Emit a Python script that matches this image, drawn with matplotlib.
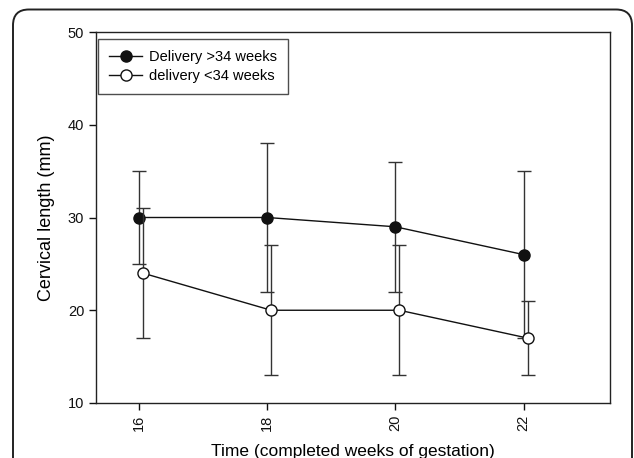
import matplotlib
matplotlib.use("Agg")
import matplotlib.pyplot as plt
from matplotlib.patches import FancyBboxPatch
from matplotlib.transforms import ScaledTranslation

plt.rcParams["font.family"] = ["Liberation Sans", "DejaVu Sans"]

weeks = [16, 18, 20, 22]
late_mean = [30, 30, 29, 26]      # delivery >34 weeks
late_err = [5, 8, 7, 9]
early_mean = [24, 20, 20, 17]     # delivery <34 weeks
early_err = [7, 7, 7, 4]

W, H = 634, 458
fig = plt.figure(figsize=(W / 100, H / 100), dpi=100)

# rounded journal-style frame (cut at right/bottom)
frame = FancyBboxPatch((13 / W, -0.2), (619 / W), 1.2 - 9.5 / H,
                       boxstyle="round,pad=0,rounding_size=0.025",
                       transform=fig.transFigure, fill=False,
                       edgecolor="#222222", linewidth=1.4, mutation_aspect=W / H)
fig.patches.append(frame)

ax = fig.add_axes([96 / W, 1 - 403 / H, (609.5 - 96) / W, (403 - 32) / H])

shift = ScaledTranslation(4 / 100, 0, fig.dpi_scale_trans)
c1 = ax.errorbar(weeks, late_mean, yerr=late_err, fmt="o-", color="#111111",
                 ecolor="#333333", elinewidth=1, capsize=5, capthick=1,
                 markersize=8, linewidth=1, zorder=3)
c2 = ax.errorbar(weeks, early_mean, yerr=early_err, fmt="o-", color="#111111",
                 ecolor="#333333", elinewidth=1, capsize=5, capthick=1,
                 markersize=8, markerfacecolor="white", linewidth=1,
                 zorder=4, transform=ax.transData + shift)

ax.set_xlim(15.33, 23.34)
ax.set_ylim(10, 50)
ax.set_xticks(weeks)
ax.set_yticks([10, 20, 30, 40, 50])
ax.tick_params(direction="out", length=5, width=1, labelsize=10.5, colors="#111111")
for lbl in ax.get_xticklabels():
    lbl.set_rotation(90)
for s in ax.spines.values():
    s.set_linewidth(1)
    s.set_color("#222222")

ax.set_xlabel("Time (completed weeks of gestation)", fontsize=12.5, labelpad=9)
ax.set_ylabel("Cervical length (mm)", fontsize=13, labelpad=9)

leg = ax.legend([c1.lines[0], c2.lines[0]],
                ["Delivery >34 weeks", "delivery <34 weeks"],
                loc="upper left", bbox_to_anchor=(2 / 513.5, 1 - 7 / 371),
                borderaxespad=0, fontsize=10.5, frameon=True, fancybox=False,
                edgecolor="#222222", handlelength=2.3, handletextpad=0.45,
                borderpad=0.75, labelspacing=0.35)
leg.get_frame().set_linewidth(1)

fig.savefig("out.png", dpi=100)
